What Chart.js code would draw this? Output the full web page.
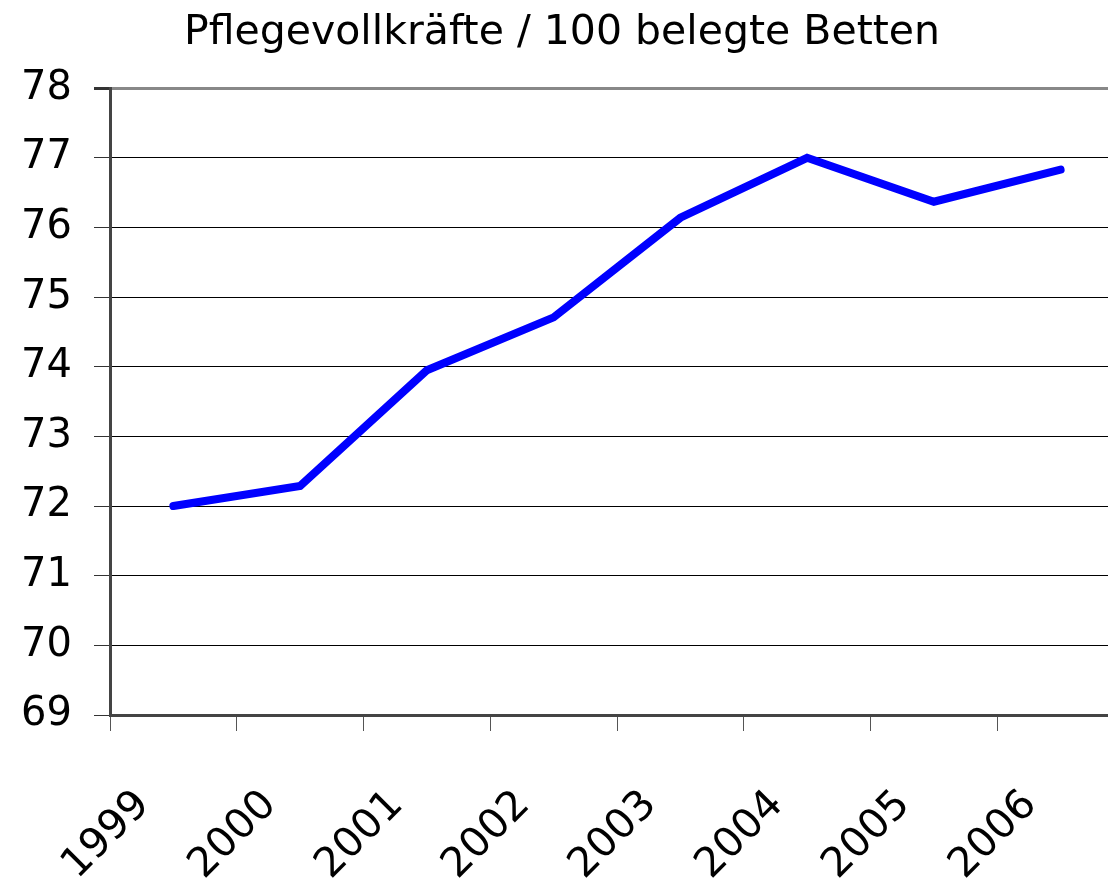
<!DOCTYPE html>
<html>
<head>
<meta charset="utf-8">
<script src="https://cdn.jsdelivr.net/npm/chart.js@4"></script>
<style>
    body { margin: 0; background: #fff; overflow: hidden; }
    #clip { width: 1108px; height: 883px; overflow: hidden; }
</style>
</head>
<body>
<div id="clip"><canvas id="chart" width="1126" height="883"></canvas></div>
<script>
// Data
const years = ['1999', '2000', '2001', '2002', '2003', '2004', '2005', '2006'];
const nurses = [72.0, 72.29, 73.95, 74.71, 76.14, 77.0, 76.37, 76.83];
const yMin = 69;
const yMax = 78;

const fontFamily = '"DejaVu Sans", Verdana, sans-serif';

const ctx = document.getElementById('chart');
new Chart(ctx.getContext('2d'), {
    type: 'line',
    data: {
        labels: years,
        datasets: [{
            data: nurses,
            borderColor: '#0000ff',
            borderWidth: 8,
            borderCapStyle: 'round',
            pointRadius: 0,
            tension: 0,
            fill: false
        }]
    },
    options: {
        responsive: false,
        animation: false,
        layout: { padding: { left: 0, right: 2, top: 0, bottom: 0 } },
        plugins: {
            legend: { display: false },
            tooltip: { enabled: false },
            title: {
                display: true,
                text: 'Pflegevollkräfte / 100 belegte Betten',
                color: '#000',
                font: { family: fontFamily, size: 41, weight: 'normal' },
                padding: { top: 9, bottom: 30 }
            }
        },
        scales: {
            x: {
                offset: true,
                grid: {
                    offset: true,
                    drawOnChartArea: false,
                    drawTicks: true,
                    tickLength: 16,
                    tickColor: '#555'
                },
                border: { color: '#444', width: 3 },
                ticks: {
                    color: '#000',
                    font: { family: fontFamily, size: 41 },
                    minRotation: 45,
                    maxRotation: 45,
                    labelOffset: -30,
                    padding: 50
                },
                afterFit: function(scale) {
                    scale.height = 168;
                    // the big label padding should not squeeze the plot on the right
                    scale.paddingRight = 0;
                }
            },
            y: {
                min: yMin,
                max: yMax,
                grid: {
                    color: function(c) { return c.tick && c.tick.value === yMax ? '#888' : '#000'; },
                    lineWidth: function(c) { return c.tick && c.tick.value === yMax ? 3 : 1; },
                    tickLength: 16,
                    tickColor: '#333'
                },
                border: { color: '#444', width: 3 },
                ticks: {
                    stepSize: 1,
                    color: '#000',
                    font: { family: fontFamily, size: 40 },
                    padding: 22
                },
                afterFit: function(scale) { scale.width = 110; }
            }
        }
    }
});
</script>
</body>
</html>
